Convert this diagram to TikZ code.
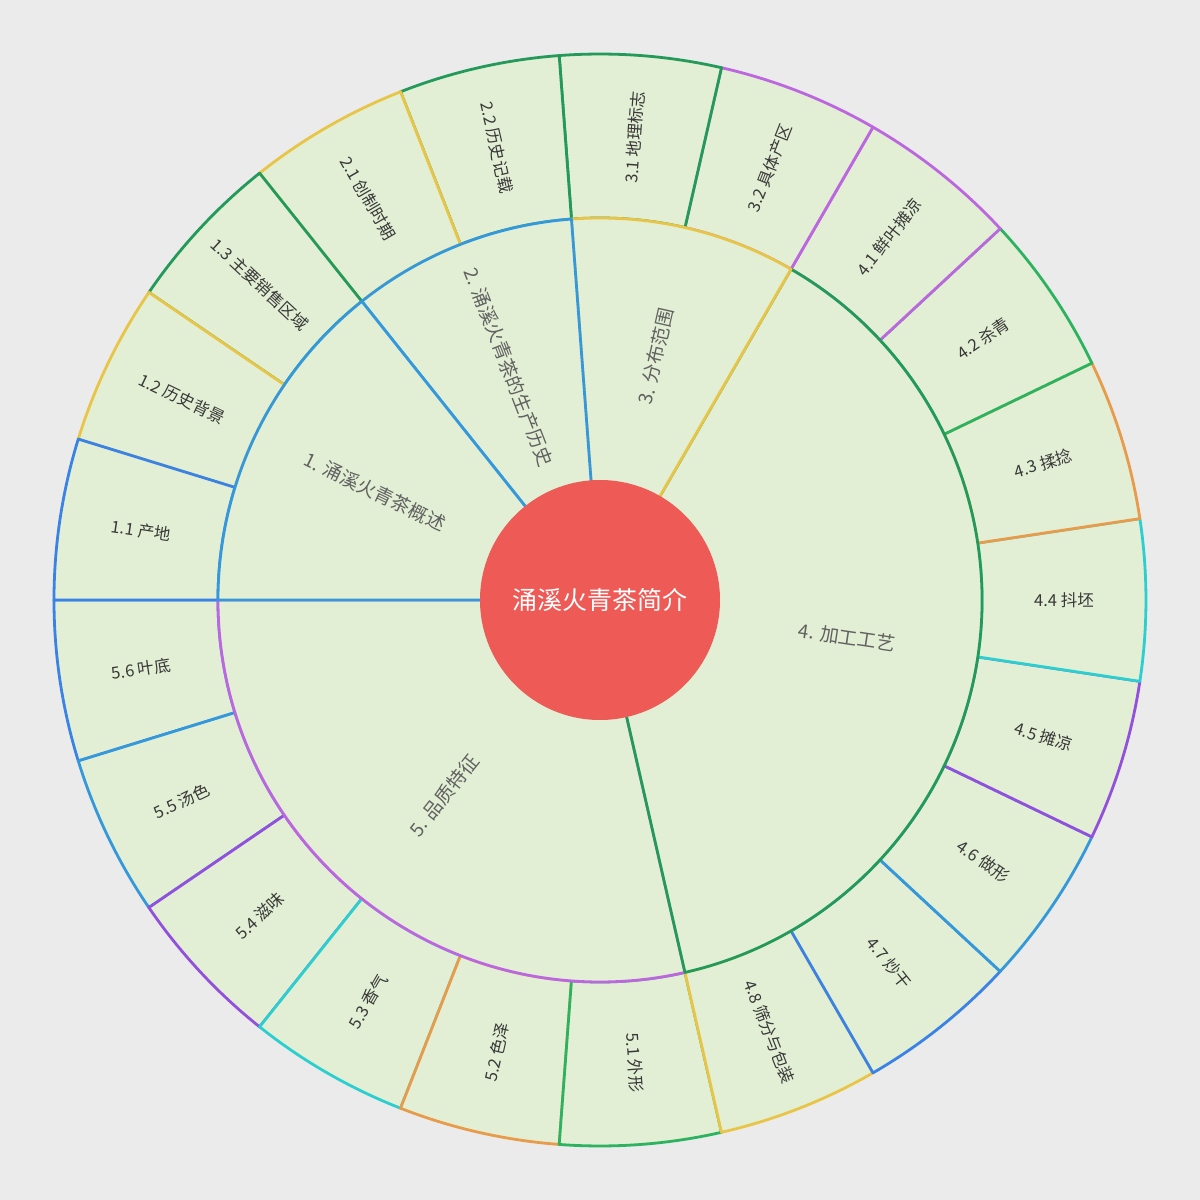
\documentclass[tikz,border=0pt]{standalone}
\usepackage{fontspec}
\setmainfont{Noto Sans CJK SC}
\usepackage{tikz}
\definecolor{bgGray}{HTML}{EBEBEB}
\definecolor{leafFill}{HTML}{E2EFD4}
\definecolor{hubRed}{HTML}{EE5A55}
\definecolor{cBlueA}{HTML}{3B82E6}
\definecolor{cBlueB}{HTML}{3498DB}
\definecolor{cYellow}{HTML}{E8C547}
\definecolor{cDGreen}{HTML}{23995A}
\definecolor{cGreen}{HTML}{2DB360}
\definecolor{cPurple}{HTML}{BC66E0}
\definecolor{cViolet}{HTML}{9250DC}
\definecolor{cOrange}{HTML}{E89B4A}
\definecolor{cCyan}{HTML}{2CCFCF}

\begin{document}
\begin{tikzpicture}[x=1pt,y=1pt,line join=round,
                    line width=2.8pt]
  \tikzstyle{seg}=[fill=leafFill]
  \tikzstyle{hub}=[circle,fill=hubRed,minimum size=240pt,inner sep=0pt,
    text=white,font=\fontsize{25}{30}\selectfont]
  \tikzstyle{branch label}=[text=black!62,font=\fontsize{19}{23}\selectfont]
  \tikzstyle{leaf label}=[text=black!78,font=\fontsize{16.5}{20}\selectfont]
  \fill[bgGray] (-600,-600) rectangle (600,600);
  \useasboundingbox (-600,-600) rectangle (600,600);
  % outer ring, drawn last leaf first
  \filldraw[seg,draw=cBlueA] (-162.857:382) arc[start angle=-162.857,end angle=-180,radius=382] -- (-180:546) arc[start angle=-180,end angle=-162.857,radius=546] -- cycle;
  \filldraw[seg,draw=cBlueB] (-145.714:382) arc[start angle=-145.714,end angle=-162.857,radius=382] -- (-162.857:546) arc[start angle=-162.857,end angle=-145.714,radius=546] -- cycle;
  \filldraw[seg,draw=cViolet] (-128.571:382) arc[start angle=-128.571,end angle=-145.714,radius=382] -- (-145.714:546) arc[start angle=-145.714,end angle=-128.571,radius=546] -- cycle;
  \filldraw[seg,draw=cCyan] (-111.429:382) arc[start angle=-111.429,end angle=-128.571,radius=382] -- (-128.571:546) arc[start angle=-128.571,end angle=-111.429,radius=546] -- cycle;
  \filldraw[seg,draw=cOrange] (-94.286:382) arc[start angle=-94.286,end angle=-111.429,radius=382] -- (-111.429:546) arc[start angle=-111.429,end angle=-94.286,radius=546] -- cycle;
  \filldraw[seg,draw=cGreen] (-77.143:382) arc[start angle=-77.143,end angle=-94.286,radius=382] -- (-94.286:546) arc[start angle=-94.286,end angle=-77.143,radius=546] -- cycle;
  \filldraw[seg,draw=cYellow] (-60:382) arc[start angle=-60,end angle=-77.143,radius=382] -- (-77.143:546) arc[start angle=-77.143,end angle=-60,radius=546] -- cycle;
  \filldraw[seg,draw=cBlueA] (-42.857:382) arc[start angle=-42.857,end angle=-60,radius=382] -- (-60:546) arc[start angle=-60,end angle=-42.857,radius=546] -- cycle;
  \filldraw[seg,draw=cBlueB] (-25.714:382) arc[start angle=-25.714,end angle=-42.857,radius=382] -- (-42.857:546) arc[start angle=-42.857,end angle=-25.714,radius=546] -- cycle;
  \filldraw[seg,draw=cViolet] (-8.571:382) arc[start angle=-8.571,end angle=-25.714,radius=382] -- (-25.714:546) arc[start angle=-25.714,end angle=-8.571,radius=546] -- cycle;
  \filldraw[seg,draw=cCyan] (8.571:382) arc[start angle=8.571,end angle=-8.571,radius=382] -- (-8.571:546) arc[start angle=-8.571,end angle=8.571,radius=546] -- cycle;
  \filldraw[seg,draw=cOrange] (25.714:382) arc[start angle=25.714,end angle=8.571,radius=382] -- (8.571:546) arc[start angle=8.571,end angle=25.714,radius=546] -- cycle;
  \filldraw[seg,draw=cGreen] (42.857:382) arc[start angle=42.857,end angle=25.714,radius=382] -- (25.714:546) arc[start angle=25.714,end angle=42.857,radius=546] -- cycle;
  \filldraw[seg,draw=cPurple] (60:382) arc[start angle=60,end angle=42.857,radius=382] -- (42.857:546) arc[start angle=42.857,end angle=60,radius=546] -- cycle;
  \filldraw[seg,draw=cPurple] (77.143:382) arc[start angle=77.143,end angle=60,radius=382] -- (60:546) arc[start angle=60,end angle=77.143,radius=546] -- cycle;
  \filldraw[seg,draw=cDGreen] (94.286:382) arc[start angle=94.286,end angle=77.143,radius=382] -- (77.143:546) arc[start angle=77.143,end angle=94.286,radius=546] -- cycle;
  \filldraw[seg,draw=cDGreen] (111.429:382) arc[start angle=111.429,end angle=94.286,radius=382] -- (94.286:546) arc[start angle=94.286,end angle=111.429,radius=546] -- cycle;
  \filldraw[seg,draw=cYellow] (128.571:382) arc[start angle=128.571,end angle=111.429,radius=382] -- (111.429:546) arc[start angle=111.429,end angle=128.571,radius=546] -- cycle;
  \filldraw[seg,draw=cDGreen] (145.714:382) arc[start angle=145.714,end angle=128.571,radius=382] -- (128.571:546) arc[start angle=128.571,end angle=145.714,radius=546] -- cycle;
  \filldraw[seg,draw=cYellow] (162.857:382) arc[start angle=162.857,end angle=145.714,radius=382] -- (145.714:546) arc[start angle=145.714,end angle=162.857,radius=546] -- cycle;
  \filldraw[seg,draw=cBlueA] (180:382) arc[start angle=180,end angle=162.857,radius=382] -- (162.857:546) arc[start angle=162.857,end angle=180,radius=546] -- cycle;
  % inner ring
  \filldraw[seg,draw=cPurple] (-77.143:118) arc[start angle=-77.143,end angle=-180,radius=118] -- (-180:382) arc[start angle=-180,end angle=-77.143,radius=382] -- cycle;
  \filldraw[seg,draw=cDGreen] (60:118) arc[start angle=60,end angle=-77.143,radius=118] -- (-77.143:382) arc[start angle=-77.143,end angle=60,radius=382] -- cycle;
  \filldraw[seg,draw=cYellow] (94.286:118) arc[start angle=94.286,end angle=60,radius=118] -- (60:382) arc[start angle=60,end angle=94.286,radius=382] -- cycle;
  \filldraw[seg,draw=cBlueB] (128.571:118) arc[start angle=128.571,end angle=94.286,radius=118] -- (94.286:382) arc[start angle=94.286,end angle=128.571,radius=382] -- cycle;
  \filldraw[seg,draw=cBlueB] (180:118) arc[start angle=180,end angle=128.571,radius=118] -- (128.571:382) arc[start angle=128.571,end angle=180,radius=382] -- cycle;
  % centre
  \node[hub] (hub) at (0,0) {涌溪火青茶简介};
  % branch labels
  \node[branch label,rotate=-25.714] (b1) at (154.286:250) {1. 涌溪火青茶概述};
  \node[branch label,rotate=-68.571] (b2) at (111.429:250) {2. 涌溪火青茶的生产历史};
  \node[branch label,rotate=77.143] (b3) at (77.143:250) {3. 分布范围};
  \node[branch label,rotate=-8.571] (b4) at (-8.571:250) {4. 加工工艺};
  \node[branch label,rotate=51.429] (b5) at (-128.571:250) {5. 品质特征};
  % leaf labels
  \node[leaf label,rotate=-8.571] (l11) at (171.429:464) {1.1 产地};
  \node[leaf label,rotate=-25.714] (l12) at (154.286:464) {1.2 历史背景};
  \node[leaf label,rotate=-42.857] (l13) at (137.143:464) {1.3 主要销售区域};
  \node[leaf label,rotate=-60] (l21) at (120:464) {2.1 创制时期};
  \node[leaf label,rotate=-77.143] (l22) at (102.857:464) {2.2 历史记载};
  \node[leaf label,rotate=85.714] (l31) at (85.714:464) {3.1 地理标志};
  \node[leaf label,rotate=68.571] (l32) at (68.571:464) {3.2 具体产区};
  \node[leaf label,rotate=51.429] (l41) at (51.429:464) {4.1 鲜叶摊凉};
  \node[leaf label,rotate=34.286] (l42) at (34.286:464) {4.2 杀青};
  \node[leaf label,rotate=17.143] (l43) at (17.143:464) {4.3 揉捻};
  \node[leaf label] (l44) at (0:464) {4.4 抖坯};
  \node[leaf label,rotate=-17.143] (l45) at (-17.143:464) {4.5 摊凉};
  \node[leaf label,rotate=-34.286] (l46) at (-34.286:464) {4.6 做形};
  \node[leaf label,rotate=-51.429] (l47) at (-51.429:464) {4.7 炒干};
  \node[leaf label,rotate=-68.571] (l48) at (-68.571:464) {4.8 筛分与包装};
  \node[leaf label,rotate=-85.714] (l51) at (-85.714:464) {5.1 外形};
  \node[leaf label,rotate=77.143] (l52) at (-102.857:464) {5.2 色泽};
  \node[leaf label,rotate=60] (l53) at (-120:464) {5.3 香气};
  \node[leaf label,rotate=42.857] (l54) at (-137.143:464) {5.4 滋味};
  \node[leaf label,rotate=25.714] (l55) at (-154.286:464) {5.5 汤色};
  \node[leaf label,rotate=8.571] (l56) at (-171.429:464) {5.6 叶底};
\end{tikzpicture}
\end{document}
